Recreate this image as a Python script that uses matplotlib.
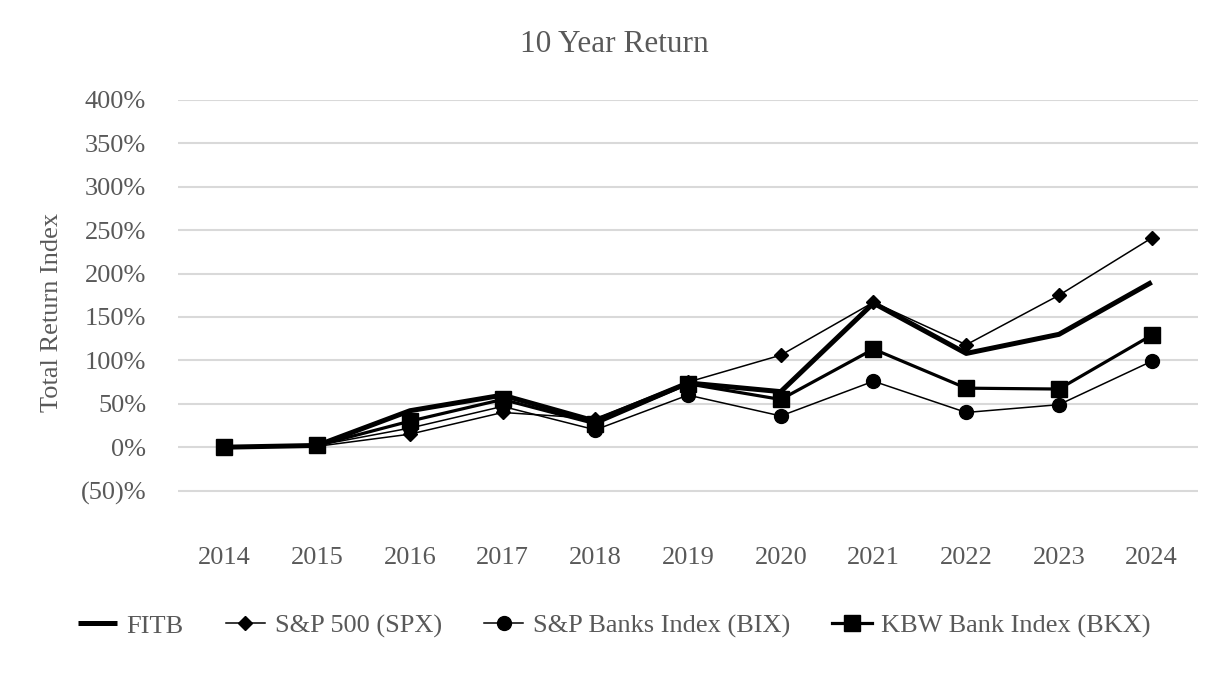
import matplotlib
matplotlib.use("Agg")
import matplotlib.pyplot as plt

years = ["2014", "2015", "2016", "2017", "2018", "2019", "2020", "2021", "2022", "2023", "2024"]
fitb = [0, 2, 42, 60, 30, 74, 64, 166, 108, 130, 190]
spx = [0, 1, 15, 40, 33, 75, 106, 167, 118, 175, 241]
bix = [0, 2, 22, 47, 20, 60, 36, 76, 40, 49, 99]
bkx = [0, 2, 30, 55, 27, 73, 55, 113, 68, 67, 129]
yticks = [-50, 0, 50, 100, 150, 200, 250, 300, 350, 400]
ytick_labels = ["(50)%", "0%", "50%", "100%", "150%", "200%", "250%", "300%", "350%", "400%"]

plt.rcParams["font.family"] = ["Liberation Serif", "DejaVu Serif"]
grey = "#595959"

fig = plt.figure(figsize=(12.28, 6.8), dpi=100)
ax = fig.add_axes([0.145, 0.2147, 0.8306, 0.6383])

x = list(range(len(years)))
h_bix, = ax.plot(x, bix, color="black", lw=1.1, marker="o", ms=10, label="S&P Banks Index (BIX)", zorder=3)
h_spx, = ax.plot(x, spx, color="black", lw=1.1, marker="D", ms=7.5, label="S&P 500 (SPX)", zorder=4)
h_bkx, = ax.plot(x, bkx, color="black", lw=2.3, marker="s", ms=11, label="KBW Bank Index (BKX)", zorder=5)
h_fitb, = ax.plot(x, fitb, color="black", lw=3.6, label="FITB", zorder=6, solid_capstyle="butt")

ax.set_xlim(-0.5, len(years) - 0.5)
ax.set_ylim(-100, 400)
ax.set_yticks(yticks)
ax.set_yticklabels(ytick_labels)
ax.set_xticks(x)
ax.set_xticklabels(years)
ax.grid(axis="y", color="#d9d9d9", lw=1.5, zorder=0)
ax.set_axisbelow(True)
for s in ax.spines.values():
    s.set_visible(False)
ax.tick_params(axis="both", length=0, labelsize=19, labelcolor=grey)
ax.tick_params(axis="x", pad=9)
ax.tick_params(axis="y", pad=23)

fig.text(52 / 1228, 1 - 312 / 680, "Total Return Index", rotation=90, ha="center", va="center",
         fontsize=19, color=grey)
fig.text(0.5, 1 - 44 / 680, "10 Year Return", ha="center", va="center", fontsize=22.5, color=grey)

leg = fig.legend(handles=[h_fitb, h_spx, h_bix, h_bkx], loc="center", bbox_to_anchor=(0.5, 1 - 626 / 680),
                 ncol=4, frameon=False, fontsize=19, handlelength=1.5, columnspacing=1.6, handletextpad=0.35)
for t in leg.get_texts():
    t.set_color(grey)

fig.savefig("out.png", dpi=100)
